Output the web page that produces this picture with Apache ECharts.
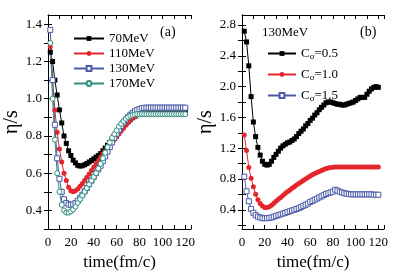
<!DOCTYPE html>
<html><head><meta charset="utf-8">
<script src="https://cdn.jsdelivr.net/npm/echarts@6/dist/echarts.min.js"></script>
<style>html,body{margin:0;padding:0;background:#fff}#c{width:409px;height:279px}</style>
</head><body><div id="c"></div>
<script>
// time values (fm/c)
const times = [];
for (let t = 2; t <= 120; t += 2) times.push(t);

// Panel (a): eta/s for different beam energies
const a70 = [1.25,1.20,1.10,1.02,0.94,0.87,0.80,0.76,0.72,0.695,0.67,0.655,0.642,0.638,0.64,0.645,0.652,0.66,0.668,0.677,0.686,0.695,0.705,0.72,0.735,0.75,0.765,0.78,0.795,0.81,0.825,0.84,0.853,0.866,0.878,0.888,0.898,0.906,0.914,0.92,0.926,0.93,0.933,0.934,0.934,0.934,0.934,0.934,0.934,0.934,0.934,0.934,0.934,0.934,0.934,0.934,0.934,0.934,0.934,0.934];
const a110 = [1.28,1.10,0.94,0.82,0.73,0.66,0.60,0.56,0.525,0.505,0.50,0.505,0.515,0.53,0.545,0.56,0.578,0.596,0.614,0.632,0.65,0.668,0.686,0.704,0.72,0.735,0.75,0.765,0.78,0.795,0.81,0.826,0.842,0.857,0.871,0.884,0.896,0.907,0.917,0.926,0.934,0.94,0.944,0.946,0.946,0.946,0.946,0.946,0.946,0.946,0.946,0.946,0.946,0.946,0.946,0.946,0.946,0.946,0.946,0.946];
const a130 = [1.37,1.10,0.86,0.68,0.57,0.50,0.46,0.44,0.432,0.43,0.432,0.44,0.452,0.467,0.484,0.502,0.52,0.54,0.56,0.58,0.60,0.62,0.64,0.665,0.69,0.715,0.74,0.765,0.79,0.812,0.834,0.854,0.872,0.888,0.902,0.914,0.924,0.933,0.94,0.945,0.949,0.951,0.952,0.952,0.952,0.952,0.952,0.952,0.952,0.952,0.952,0.952,0.952,0.952,0.952,0.952,0.952,0.952,0.952,0.952];
const a170 = [1.30,1.00,0.78,0.60,0.50,0.43,0.40,0.388,0.388,0.395,0.405,0.42,0.44,0.46,0.48,0.50,0.52,0.54,0.56,0.58,0.60,0.625,0.65,0.68,0.71,0.74,0.765,0.79,0.81,0.83,0.85,0.866,0.88,0.892,0.902,0.909,0.913,0.916,0.917,0.917,0.917,0.917,0.917,0.917,0.917,0.917,0.917,0.917,0.917,0.917,0.917,0.917,0.917,0.917,0.917,0.917,0.917,0.917,0.917,0.917];

// Panel (b): 130 MeV, different C_sigma
const b05 = [2.72,2.58,2.27,1.87,1.54,1.35,1.21,1.11,1.03,0.99,0.98,0.99,1.03,1.08,1.12,1.16,1.20,1.23,1.25,1.27,1.28,1.30,1.32,1.35,1.39,1.42,1.45,1.49,1.52,1.56,1.59,1.63,1.66,1.70,1.73,1.76,1.79,1.80,1.80,1.79,1.78,1.77,1.77,1.76,1.76,1.77,1.78,1.79,1.80,1.82,1.84,1.86,1.86,1.86,1.90,1.94,1.97,1.99,2.00,1.99];
const b10 = [1.37,1.17,0.95,0.81,0.70,0.60,0.53,0.48,0.45,0.43,0.43,0.44,0.46,0.485,0.51,0.535,0.56,0.585,0.61,0.633,0.655,0.678,0.70,0.72,0.74,0.76,0.78,0.80,0.82,0.838,0.855,0.87,0.885,0.898,0.91,0.922,0.935,0.944,0.95,0.953,0.955,0.955,0.955,0.955,0.955,0.955,0.955,0.955,0.955,0.955,0.955,0.955,0.955,0.955,0.955,0.955,0.955,0.955,0.955,0.955];
const b15 = [0.83,0.64,0.51,0.41,0.36,0.33,0.31,0.30,0.29,0.29,0.29,0.295,0.30,0.31,0.32,0.33,0.34,0.35,0.36,0.37,0.38,0.39,0.40,0.41,0.42,0.435,0.45,0.465,0.48,0.50,0.515,0.53,0.545,0.56,0.575,0.59,0.605,0.615,0.625,0.635,0.66,0.65,0.635,0.625,0.615,0.61,0.605,0.60,0.60,0.60,0.60,0.60,0.60,0.60,0.60,0.60,0.60,0.595,0.595,0.595];

const aYLabels = [0.4,0.6,0.8,1.0,1.2,1.4];
const aYTicks = [0.3,0.4,0.5,0.6,0.7,0.8,0.9,1.0,1.1,1.2,1.3,1.4];
const bYLabels = [0.4,0.8,1.2,1.6,2.0,2.4,2.8];
const bYTicks = [0.2,0.4,0.6,0.8,1.0,1.2,1.4,1.6,1.8,2.0,2.2,2.4,2.6,2.8];

const FONT = 'Liberation Serif';
const BLACK = '#000000', RED = '#e3262b', BLUE = '#4a5aa8', TEAL = '#2f8f80';

function pair(a, b){ return a.map((v,i)=>[v,b[i]]); }

function xAxes(gi){
  const base = {gridIndex: gi, type:'value', min:0, max:125, interval:10,
    axisLine:{show:true, lineStyle:{color:'#000', width:1}},
    axisTick:{inside:true, length:4, lineStyle:{color:'#000'}},
    splitLine:{show:false}};
  return [
    Object.assign({}, base, {position:'bottom',
      axisLabel:{margin:7, fontFamily:FONT, fontSize:13, fontWeight:'normal', color:'#000',
        formatter: v => (v % 20 === 0 ? String(v) : '')},
      name:'time(fm/c)', nameLocation:'middle', nameGap:23,
      nameTextStyle:{fontFamily:FONT, fontSize:17, fontWeight:'normal', color:'#000'}}),
    Object.assign({}, base, {position:'top', axisLabel:{show:false}})
  ];
}
function yAxes(gi, min, max, ticks, labels){
  const base = {gridIndex: gi, type:'value', min:min, max:max,
    axisLine:{show:true, lineStyle:{color:'#000', width:1}},
    axisTick:{inside:true, length:4, customValues:ticks, lineStyle:{color:'#000'}},
    splitLine:{show:false}};
  return [
    Object.assign({}, base, {position:'left',
      axisLabel:{customValues:labels, margin:6, fontFamily:FONT, fontSize:13, fontWeight:'normal', color:'#000', formatter: v => v.toFixed(1)},
      name:'η/s', nameLocation:'middle', nameGap:22, nameRotate:90,
      nameTextStyle:{fontFamily:FONT, fontSize:20, fontWeight:'normal', color:'#000'}}),
    Object.assign({}, base, {position:'right', axisLabel:{show:false}})
  ];
}

function ser(name, gi, data, color, symbol, filled){
  return {name:name, type:'line', xAxisIndex:gi*2, yAxisIndex:gi*2,
    data: pair(times, data), symbol: symbol, symbolSize: 5, showSymbol:true,
    lineStyle:{color:color, width:1}, itemStyle: filled ? {color:color} : {color:'#fff', borderColor:color, borderWidth:1},
    emphasis:{disabled:true}, animation:false};
}

const chart = echarts.init(document.getElementById('c'), null, {renderer:'canvas'});
const subRich = {sub:{fontFamily:FONT, fontSize:9, fontWeight:'normal', color:'#000', padding:[7,0,0,0]}};
chart.setOption({
  animation:false,
  backgroundColor:'#fff',
  grid:[{left:48, top:15, width:143, height:214}, {left:242, top:15, width:142, height:214}],
  xAxis: xAxes(0).concat(xAxes(1)),
  yAxis: yAxes(0, 0.3, 1.45, aYTicks, aYLabels).concat(yAxes(1, 0.15, 2.93, bYTicks, bYLabels)),
  legend:[
    {data:['70MeV','110MeV','130MeV','170MeV'], orient:'vertical', left:68, top:26, itemWidth:30, itemHeight:6, itemGap:0,
     textStyle:{fontFamily:FONT, fontSize:13, fontWeight:'normal', color:'#000', lineHeight:15}, selectedMode:false},
    {data:['Cσ=0.5','Cσ=1.0','Cσ=1.5'], orient:'vertical', left:262, top:39, itemWidth:28, itemHeight:6, itemGap:2,
     formatter: n => 'C{sub|σ}' + n.slice(2),
     textStyle:{fontFamily:FONT, fontSize:13, fontWeight:'normal', color:'#000', lineHeight:19, rich:subRich}, selectedMode:false}
  ],
  graphic:[
    {type:'text', left:160, top:25, style:{text:'(a)', font:'14px "Liberation Serif"', fill:'#000'}},
    {type:'text', left:360, top:25, style:{text:'(b)', font:'14px "Liberation Serif"', fill:'#000'}},
    {type:'text', left:262, top:26, style:{text:'130MeV', font:'13px "Liberation Serif"', fill:'#000'}}
  ],
  series:[
    ser('70MeV', 0, a70, BLACK, 'rect', true),
    ser('110MeV', 0, a110, RED, 'circle', true),
    ser('130MeV', 0, a130, BLUE, 'rect', false),
    ser('170MeV', 0, a170, TEAL, 'circle', false),
    ser('Cσ=0.5', 1, b05, BLACK, 'rect', true),
    ser('Cσ=1.0', 1, b10, RED, 'circle', true),
    ser('Cσ=1.5', 1, b15, BLUE, 'rect', false)
  ]
});
</script>
</body></html>
